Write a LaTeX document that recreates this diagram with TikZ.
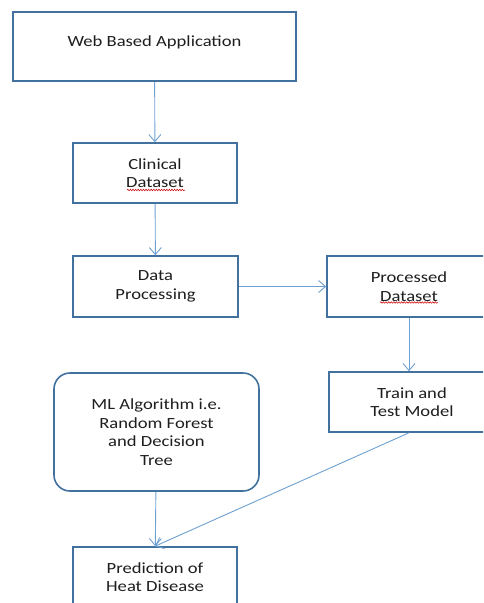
\documentclass[tikz,border=0pt]{standalone}
\usepackage{fontspec}
\setmainfont{Carlito}[FakeStretch=1.2]
\usepackage{tikz}
\usetikzlibrary{positioning,arrows.meta,calc,decorations.pathmorphing}

\definecolor{boxline}{RGB}{65,113,156}
\definecolor{arrowline}{RGB}{110,160,210}
\definecolor{textgray}{RGB}{30,30,30}

\begin{document}
\begin{tikzpicture}[
  x=1pt, y=-1pt,
  stage/.style={rectangle, draw=boxline, line width=1.6pt, fill=white, text=textgray, align=center, font=\fontsize{15.5}{18.5}\selectfont},
  algo/.style={stage, rounded corners=16pt},
  flow/.style={-{Straight Barb[length=7pt,width=12pt]}, draw=arrowline, line width=0.9pt},
  squig/.style={draw=red!80!black, line width=0.5pt, decorate, decoration={snake, amplitude=0.8pt, segment length=2.6pt}}
]

\clip (0,0) rectangle (483,603);

% Top of the flow
\node[stage, minimum width=283pt, minimum height=69pt, text height=11pt, text depth=12pt] (webapp) at (154.5,46.5) {Web Based Application};
\node[stage, minimum width=164pt, minimum height=60pt] (clinical) at (155,173) {Clinical\\Dataset};
\node[stage, minimum width=165pt, minimum height=61pt] (dataproc) at (155.5,286.5) {Data\\Processing};

% Right branch
\node[stage, minimum width=164pt, minimum height=61pt] (procdata) at (409,286.5) {Processed\\Dataset};
\node[stage, minimum width=166pt, minimum height=60pt] (traintest) at (412,402) {Train and\\Test Model};

% Bottom
\node[algo, minimum width=205pt, minimum height=118pt] (mlalgo) at (156.5,432) {ML Algorithm i.e.\\Random Forest\\and Decision\\Tree};
\node[stage, minimum width=164pt, minimum height=60pt] (predict) at (155,577) {Prediction of\\Heat Disease};

% spell-check marks
\draw[squig] ($(clinical.center)+(-28,17)$) -- ($(clinical.center)+(30,17)$);
\draw[squig] ($(procdata.center)+(-29,16)$) -- ($(procdata.center)+(29,16)$);

\draw[flow] (webapp) -- (clinical);
\draw[flow] (clinical) -- (dataproc);
\draw[flow] (dataproc) -- (procdata);
\draw[flow] (procdata.south) -- (traintest.north -| procdata.south);
\draw[flow] (mlalgo) -- (predict);
\draw[flow] (traintest.south -| procdata.south) -- (predict.north);

\end{tikzpicture}
\end{document}
